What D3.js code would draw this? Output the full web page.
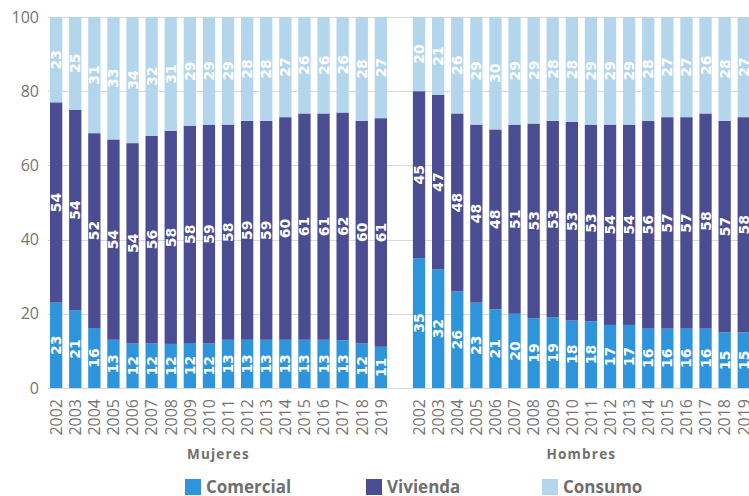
<!DOCTYPE html>
<html>
<head>
<meta charset="utf-8">
<script src="https://cdn.jsdelivr.net/npm/d3@7"></script>
<style>
  body { margin: 0; background: #fff; }
  svg { display: block; font-family: "Open Sans", sans-serif; }
</style>
</head>
<body>
<div id="chart"></div>
<script>
const years = ['2002','2003','2004','2005','2006','2007','2008','2009','2010',
               '2011','2012','2013','2014','2015','2016','2017','2018','2019'];
const groups = ['Mujeres', 'Hombres'];
const series = ['Comercial', 'Vivienda', 'Consumo'];
const colors = ['#2e95dd', '#4b4d92', '#b3d6ec'];

const mujeresComercial = [23,21,16,13,12,12,12,12,12,13,13,13,13,13,13,13,12,11];
const mujeresVivienda  = [54,54,52,54,54,56,58,58,59,58,59,59,60,61,61,62,60,61];
const mujeresConsumo   = [23,25,31,33,34,32,31,29,29,29,28,28,27,26,26,26,28,27];

const hombresComercial = [35,32,26,23,21,20,19,19,18,18,17,17,16,16,16,16,15,15];
const hombresVivienda  = [45,47,48,48,48,51,53,53,53,53,54,54,56,57,57,58,57,58];
const hombresConsumo   = [20,21,26,29,30,29,29,28,28,29,29,29,28,27,27,26,28,27];

const yTicks = [0, 20, 40, 60, 80, 100];

const width = 749, height = 496;

// one row per bar, empty slot between the two groups
const rows = [];
years.forEach((y, i) => rows.push({ key: 'M' + y, year: y, group: 'Mujeres',
  Comercial: mujeresComercial[i], Vivienda: mujeresVivienda[i], Consumo: mujeresConsumo[i] }));
const gapKey = 'gap';
years.forEach((y, i) => rows.push({ key: 'H' + y, year: y, group: 'Hombres',
  Comercial: hombresComercial[i], Vivienda: hombresVivienda[i], Consumo: hombresConsumo[i] }));

const keys = rows.slice(0, 18).map(d => d.key).concat([gapKey], rows.slice(18).map(d => d.key));

const svg = d3.select('#chart').append('svg')
  .attr('width', width)
  .attr('height', height);

const x = d3.scaleBand()
  .domain(keys)
  .range([46.6, 46.6 + 37 * 19.1])
  .paddingInner(0.356)
  .paddingOuter(0.178);

const y = d3.scaleLinear()
  .domain([0, 100])
  .range([388, 17]);

// gridlines
svg.append('g')
  .selectAll('line')
  .data(yTicks)
  .join('line')
  .attr('x1', 48)
  .attr('x2', width)
  .attr('y1', d => Math.round(y(d)) + 0.5)
  .attr('y2', d => Math.round(y(d)) + 0.5)
  .attr('stroke', '#d9d9d9')
  .attr('stroke-width', 1);

// y tick labels
svg.append('g')
  .selectAll('text')
  .data(yTicks)
  .join('text')
  .attr('x', 39)
  .attr('y', d => y(d))
  .attr('dy', '0.35em')
  .attr('text-anchor', 'end')
  .attr('font-size', '16px')
  .attr('fill', '#757575')
  .text(d => d);

const stack = d3.stack()
  .keys(series)
  .offset(d3.stackOffsetExpand);
const stacked = stack(rows);

const layers = svg.append('g')
  .selectAll('g')
  .data(stacked)
  .join('g')
  .attr('fill', (d, i) => colors[i]);

layers.selectAll('rect')
  .data(d => d)
  .join('rect')
  .attr('x', d => x(d.data.key))
  .attr('width', x.bandwidth())
  .attr('y', d => y(d[1] * 100))
  .attr('height', d => y(d[0] * 100) - y(d[1] * 100));

// value labels
stacked.forEach(layer => {
  svg.append('g')
    .selectAll('text')
    .data(layer)
    .join('text')
    .attr('transform', d => {
      const cx = x(d.data.key) + x.bandwidth() / 2;
      const cy = y((d[0] + d[1]) / 2 * 100);
      return `translate(${cx},${cy}) rotate(-90)`;
    })
    .attr('text-anchor', 'middle')
    .attr('dy', '0.36em')
    .attr('font-family', '"DejaVu Sans", sans-serif')
    .attr('font-weight', 'bold')
    .attr('font-size', '14px')
    .attr('fill', '#fff')
    .text(d => d.data[layer.key]);
});

// year labels
svg.append('g')
  .selectAll('text')
  .data(rows)
  .join('text')
  .attr('transform', d => `translate(${x(d.key) + x.bandwidth() / 2},${399}) rotate(-90)`)
  .attr('text-anchor', 'end')
  .attr('dy', '0.36em')
  .attr('font-size', '16px')
  .attr('fill', '#757575')
  .text(d => d.year);

// group labels
groups.forEach(g => {
  const ks = rows.filter(d => d.group === g).map(d => d.key);
  const cx = (x(ks[0]) + x(ks[ks.length - 1]) + x.bandwidth()) / 2;
  svg.append('text')
    .attr('x', cx)
    .attr('y', 459)
    .attr('text-anchor', 'middle')
    .attr('font-size', '13.5px')
    .attr('font-weight', 'bold')
    .attr('letter-spacing', '1.2px')
    .attr('fill', '#6f6f6f')
    .text(g);
});

// legend
const legendX = [185, 366, 542];
const legend = svg.append('g')
  .selectAll('g')
  .data(series)
  .join('g')
  .attr('transform', (d, i) => `translate(${legendX[i]},479)`);

legend.append('rect')
  .attr('width', 16)
  .attr('height', 16)
  .attr('fill', (d, i) => colors[i]);

legend.append('text')
  .attr('x', 21)
  .attr('y', 14)
  .attr('font-size', '17px')
  .attr('font-weight', 'bold')
  .attr('fill', '#6f6f6f')
  .text(d => d);
</script>
</body>
</html>
